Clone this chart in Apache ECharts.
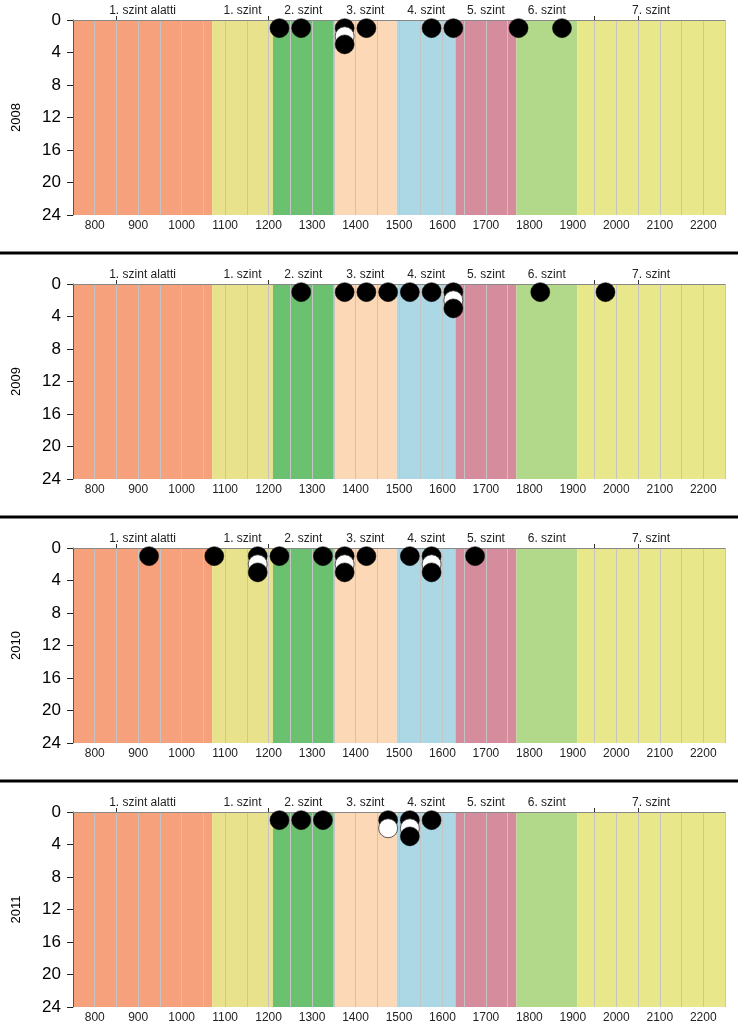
<!DOCTYPE html>
<html>
<head>
<meta charset="utf-8">
<script src="https://cdn.jsdelivr.net/npm/echarts@6/dist/echarts.min.js"></script>
<style>
html,body{margin:0;padding:0;background:#fff;}
#chart{width:738px;height:1031px;}
</style>
</head>
<body>
<div id="chart"></div>
<script>
// ---- data ----
const years = ['2008', '2009', '2010', '2011'];
const levelNames = ['1. szint alatti', '1. szint', '2. szint', '3. szint', '4. szint', '5. szint', '6. szint', '7. szint'];
const levelEdges = [750, 1070, 1210, 1350, 1495, 1630, 1770, 1910, 2250];
const scoreTickLabels = [800, 900, 1000, 1100, 1200, 1300, 1400, 1500, 1600, 1700, 1800, 1900, 2000, 2100, 2200];
const countTicks = [0, 4, 8, 12, 16, 20, 24];
// [score, stack position, kind (0 = black, 1 = white)]
const dots2008 = [[1225,1,0],[1275,1,0],[1375,1,0],[1375,2,1],[1375,3,0],[1425,1,0],[1575,1,0],[1625,1,0],[1775,1,0],[1875,1,0]];
const dots2009 = [[1275,1,0],[1375,1,0],[1425,1,0],[1475,1,0],[1525,1,0],[1575,1,0],[1625,1,0],[1625,2,1],[1625,3,0],[1825,1,0],[1975,1,0]];
const dots2010 = [[925,1,0],[1075,1,0],[1175,1,0],[1175,2,1],[1175,3,0],[1225,1,0],[1325,1,0],[1375,1,0],[1375,2,1],[1375,3,0],[1425,1,0],[1525,1,0],[1575,1,0],[1575,2,1],[1575,3,0],[1675,1,0]];
const dots2011 = [[1225,1,0],[1275,1,0],[1325,1,0],[1475,1,0],[1475,2,1],[1525,1,0],[1525,2,1],[1525,3,0],[1575,1,0]];
const allDots = [dots2008, dots2009, dots2010, dots2011];

// ---- styles ----
const levelColors = ['#F6A07C', '#E8E28C', '#6CC170', '#FCD8B6', '#ACD7E4', '#D58C9C', '#B2D88A', '#E8E78A'];
const dotStyles = [
  { color: '#000000', borderColor: '#000000', borderWidth: 0.5 },
  { color: '#FFFFFF', borderColor: '#333333', borderWidth: 0.8 }
];
const FONT = 'Liberation Sans, Arial, sans-serif';
const panelStep = 264, plotTop = 20, plotH = 195;

const xMin = levelEdges[0], xMax = levelEdges[levelEdges.length - 1];
const bandData = levelNames.map((n, i) => [levelEdges[i], levelEdges[i + 1], i]);
const levelCenters = levelNames.map((n, i) => (levelEdges[i] + levelEdges[i + 1]) / 2);

const grid = [], xAxis = [], yAxis = [], series = [], graphic = [];
years.forEach((yr, i) => {
  grid.push({ left: 73, right: 13, top: plotTop + panelStep * i, height: plotH });
  xAxis.push({
    type: 'value', gridIndex: i, min: xMin, max: xMax, interval: 50, z: 1,
    axisLine: { show: false }, axisTick: { show: false },
    splitLine: { show: true, lineStyle: { color: '#C4C4C4', width: 1 } },
    axisLabel: {
      margin: 5, fontSize: 12, color: '#222', fontFamily: FONT,
      customValues: scoreTickLabels,
      formatter: v => String(v)
    }
  });
  xAxis.push({
    type: 'value', gridIndex: i, position: 'top', min: xMin, max: xMax, interval: 50, z: 1,
    axisLine: { show: true, lineStyle: { color: '#888', width: 1 } },
    axisTick: { show: true, length: 4, customValues: [850, 1200, 1950, 2050], lineStyle: { color: '#333' } },
    splitLine: { show: false },
    axisLabel: {
      margin: 3, fontSize: 12, color: '#222', fontFamily: FONT,
      customValues: levelCenters,
      formatter: v => { const k = levelCenters.indexOf(v); return k >= 0 ? levelNames[k] : ''; }
    }
  });
  yAxis.push({
    type: 'value', gridIndex: i, inverse: true, min: countTicks[0], max: countTicks[countTicks.length - 1], interval: 4, z: 1,
    name: yr, nameLocation: 'middle', nameGap: 50,
    nameTextStyle: { fontSize: 13, color: '#000', fontFamily: FONT },
    axisLine: { show: true, lineStyle: { color: '#555', width: 1 } },
    axisTick: { show: true, length: 6, lineStyle: { color: '#222' } },
    splitLine: { show: false },
    axisLabel: { margin: 12, fontSize: 17, color: '#000', fontFamily: FONT }
  });
  series.push({
    type: 'custom', xAxisIndex: 2 * i, yAxisIndex: i, z: 0, silent: true,
    encode: { x: [0, 1] },
    data: bandData,
    renderItem: (params, api) => {
      const a = api.coord([api.value(0), countTicks[0]]);
      const b = api.coord([api.value(1), countTicks[countTicks.length - 1]]);
      return {
        type: 'rect',
        shape: { x: a[0], y: Math.min(a[1], b[1]), width: b[0] - a[0], height: Math.abs(b[1] - a[1]) },
        style: { fill: levelColors[api.value(2)] }
      };
    }
  });
  const sorted = allDots[i].slice().sort((p, q) => p[1] - q[1]);
  series.push({
    type: 'scatter', xAxisIndex: 2 * i, yAxisIndex: i, z: 3, symbolSize: 19,
    data: sorted.map(d => ({ value: d, itemStyle: Object.assign({ opacity: 1 }, dotStyles[d[2]]) }))
  });
  if (i > 0) {
    graphic.push({ type: 'rect', left: 0, top: panelStep * i - 12.5, shape: { width: 738, height: 3 }, style: { fill: '#000' } });
  }
});

const chart = echarts.init(document.getElementById('chart'), null, { renderer: 'canvas' });
chart.setOption({
  animation: false,
  backgroundColor: '#fff',
  grid, xAxis, yAxis, series, graphic
});
</script>
</body>
</html>
